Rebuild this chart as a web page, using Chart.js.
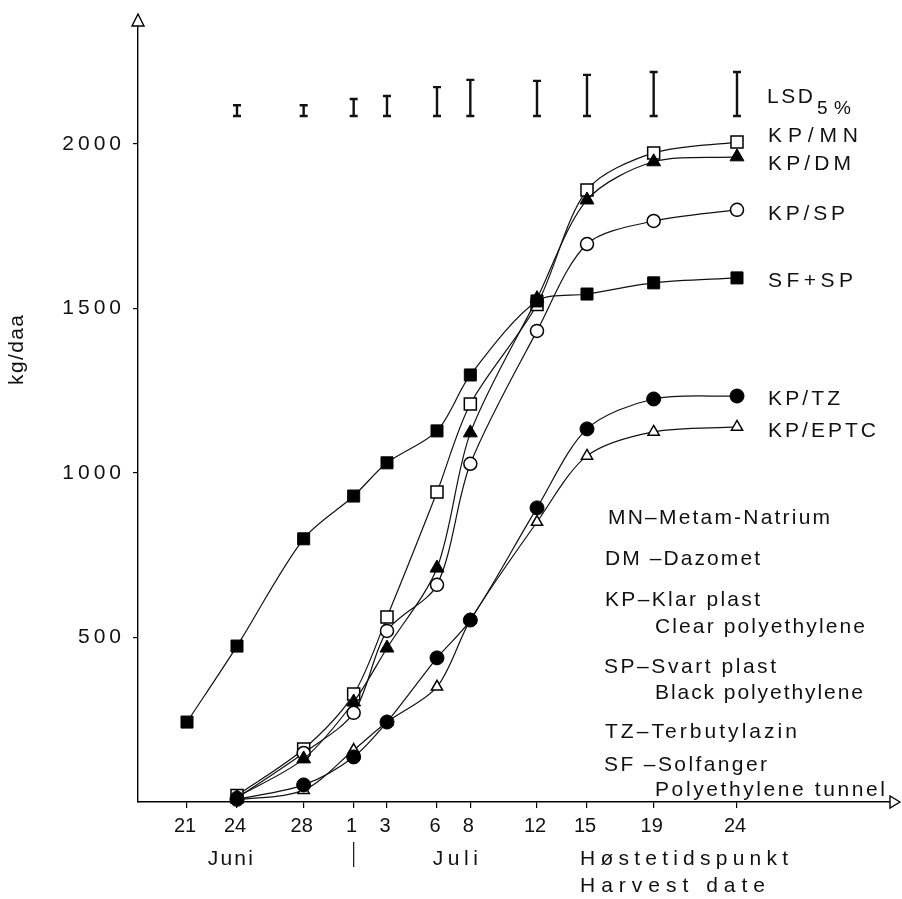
<!DOCTYPE html>
<html>
<head>
<meta charset="utf-8">
<script src="https://cdn.jsdelivr.net/npm/chart.js@4.4.1/dist/chart.umd.min.js"></script>
<style>
html,body{margin:0;padding:0;background:#fff;}
#wrap{width:902px;height:899px;position:relative;}
canvas{display:block;}
</style>
</head>
<body>
<div id="wrap"><canvas id="c" width="902" height="899"></canvas></div>
<script>
// ---- DATA (x = days after 21 June) ----
const dateDays   = [0, 3, 7, 10, 12, 15, 17, 21, 24, 28, 33];
const dateLabels = ['21', '24', '28', '1', '3', '6', '8', '12', '15', '19', '24'];
const monthLabels = ['Juni', 'Juli'];
const monthDays   = [2.6, 16.1];
const monthSplitDay = 10;
const sampleDays = [3, 7, 10, 12, 15, 17, 21, 24, 28, 33];
const sfspDays   = [0, 3, 7, 10, 12, 15, 17, 21, 24, 28, 33];

const kpMN   = [20, 161, 328, 562, 942, 1210, 1512, 1860, 1973, 2006];
const kpDM   = [15, 131, 304, 468, 711, 1122, 1530, 1830, 1946, 1961];
const kpSP   = [12, 149, 271, 520, 660, 1028, 1432, 1696, 1766, 1800];
const sfSP   = [243, 474, 800, 930, 1031, 1128, 1298, 1523, 1544, 1578, 1593];
const kpTZ   = [8, 52, 137, 243, 438, 553, 894, 1134, 1225, 1234];
const kpEPTC = [6, 36, 158, 243, 350, 553, 851, 1052, 1125, 1140];

const lsdDays   = [3, 7, 10, 12, 15, 17, 21, 24, 28, 33];
const lsdValues = [33, 33, 52, 61, 88, 110, 107, 125, 134, 134];
const lsdBase = 2085;

const yTicks = [500, 1000, 1500, 2000];
const seriesNames = ['KP/MN', 'KP/DM', 'KP/SP', 'SF+SP', 'KP/TZ', 'KP/EPTC'];
const yTitle = 'kg/daa';
const xTitle = ['Høstetidspunkt', 'Harvest date'];
const notes = [
  'MN–Metam-Natrium',
  'DM –Dazomet',
  'KP–Klar plast',
  'Clear polyethylene',
  'SP–Svart plast',
  'Black polyethylene',
  'TZ–Terbutylazin',
  'SF –Solfanger',
  'Polyethylene tunnel'
];

// ---- STYLE / LAYOUT ----
const FONT = '"Liberation Sans", Arial, Helvetica, sans-serif';
const labelDy = [-6, 7, 4, 3, 3, 4];
const labelW  = [90, 83, 77, 85, 72, 108];
const noteX = [608, 605, 605, 655, 604, 655, 605, 604, 655];
const noteY = [518, 559, 600, 627, 667, 693, 732, 765, 790];
const noteW = [222, 155, 155, 210, 172, 208, 192, 163, 230];
const drawOrder = [5, 2, 4, 0, 1, 3];

function pts(xs, ys) { return ys.map((v, i) => ({x: xs[i], y: v})); }

function ds(i, xs, ys, style, radius, filled) {
  return {
    label: seriesNames[i], data: pts(xs, ys), order: drawOrder[i],
    borderColor: '#111', borderWidth: 1.2,
    pointStyle: style, pointRadius: radius, pointHoverRadius: radius,
    pointBackgroundColor: filled ? '#000' : '#fff',
    pointBorderColor: '#000', pointBorderWidth: filled ? 1 : 1.5,
    tension: 0.3, fill: false, clip: false
  };
}

function fitText(ctx, text, x, y, size, width, align) {
  ctx.font = size + 'px ' + FONT;
  ctx.letterSpacing = '0px';
  const w0 = ctx.measureText(text).width;
  const n = text.length;
  const sp = width ? Math.max(0, (width - w0) / Math.max(1, n - 1)) : 0;
  const w = w0 + sp * (n - 1);
  ctx.letterSpacing = sp + 'px';
  let sx = x;
  if (align === 'center') sx = x - w / 2;
  else if (align === 'right') sx = x - w;
  ctx.textAlign = 'left';
  ctx.textBaseline = 'middle';
  ctx.fillStyle = '#111';
  ctx.fillText(text, sx, y);
  ctx.letterSpacing = '0px';
}

const annot = {
  id: 'annot',
  afterDraw(chart) {
    const ctx = chart.ctx;
    const xs = chart.scales.x, ys = chart.scales.y;
    const area = chart.chartArea;
    ctx.save();
    ctx.strokeStyle = '#000';
    ctx.fillStyle = '#fff';
    ctx.lineWidth = 1.4;
    // arrow heads
    ctx.beginPath();
    ctx.moveTo(area.left, 14);
    ctx.lineTo(area.left - 6, area.top);
    ctx.lineTo(area.left + 6, area.top);
    ctx.closePath();
    ctx.fill(); ctx.stroke();
    ctx.beginPath();
    ctx.moveTo(900, area.bottom);
    ctx.lineTo(area.right, area.bottom - 6);
    ctx.lineTo(area.right, area.bottom + 6);
    ctx.closePath();
    ctx.fill(); ctx.stroke();

    // LSD bars
    ctx.lineWidth = 2.4;
    ctx.strokeStyle = '#111';
    lsdDays.forEach((d, i) => {
      const x = xs.getPixelForValue(d);
      const y1 = ys.getPixelForValue(lsdBase);
      const y2 = ys.getPixelForValue(lsdBase + lsdValues[i]);
      ctx.beginPath();
      ctx.moveTo(x, y1); ctx.lineTo(x, y2);
      ctx.moveTo(x - 4, y1); ctx.lineTo(x + 4, y1);
      ctx.moveTo(x - 4, y2); ctx.lineTo(x + 4, y2);
      ctx.stroke();
    });

    // y tick labels
    yTicks.forEach(v => {
      ctx.font = '21px ' + FONT;
      ctx.letterSpacing = '4px';
      ctx.textAlign = 'right';
      ctx.textBaseline = 'middle';
      ctx.fillStyle = '#111';
      ctx.fillText(String(v), 125, ys.getPixelForValue(v));
      ctx.letterSpacing = '0px';
    });
    // x tick labels
    dateLabels.forEach((t, i) => {
      fitText(ctx, t, xs.getPixelForValue(dateDays[i]) - 2, 826, 20, 0, 'center');
    });
    monthLabels.forEach((t, i) => {
      fitText(ctx, t, xs.getPixelForValue(monthDays[i]), 859, 21, 45, 'center');
    });
    // month separator
    ctx.strokeStyle = '#111';
    ctx.lineWidth = 1.2;
    const sx = xs.getPixelForValue(monthSplitDay);
    ctx.beginPath();
    ctx.moveTo(sx, 842); ctx.lineTo(sx, 867);
    ctx.stroke();

    fitText(ctx, xTitle[0], 580, 859, 21, 208, 'left');
    fitText(ctx, xTitle[1], 580, 886, 21, 185, 'left');

    // y title (rotated)
    ctx.save();
    ctx.translate(17, 350);
    ctx.rotate(-Math.PI / 2);
    fitText(ctx, yTitle, 0, 0, 21, 70, 'center');
    ctx.restore();

    // LSD label
    fitText(ctx, 'LSD', 767, 97, 21, 46, 'left');
    fitText(ctx, '5%', 817, 109, 19, 34, 'left');

    // series labels
    chart.data.datasets.forEach((d, i) => {
      const last = d.data[d.data.length - 1];
      const px = xs.getPixelForValue(last.x) + 31;
      const py = ys.getPixelForValue(last.y) + labelDy[i];
      fitText(ctx, seriesNames[i], px, py, 21, labelW[i], 'left');
    });

    // explanatory notes
    notes.forEach((t, i) => fitText(ctx, t, noteX[i], noteY[i], 21, noteW[i], 'left'));
    ctx.restore();
  }
};

new Chart(document.getElementById('c'), {
  type: 'line',
  data: {
    datasets: [
      ds(0, sampleDays, kpMN, 'rect', 8.5, false),
      ds(1, sampleDays, kpDM, 'triangle', 8, true),
      ds(2, sampleDays, kpSP, 'circle', 6.5, false),
      ds(3, sfspDays, sfSP, 'rect', 8.5, true),
      ds(4, sampleDays, kpTZ, 'circle', 7, true),
      ds(5, sampleDays, kpEPTC, 'triangle', 6.5, false)
    ]
  },
  options: {
    responsive: false,
    maintainAspectRatio: false,
    animation: false,
    devicePixelRatio: 1,
    layout: {padding: {left: 133, right: 12, top: 26, bottom: 91}},
    plugins: {legend: {display: false}, tooltip: {enabled: false}},
    scales: {
      x: {
        type: 'linear', min: -2.94, max: 42.18,
        afterBuildTicks: a => { a.ticks = dateDays.map(v => ({value: v})); },
        ticks: {display: false},
        grid: {display: true, drawOnChartArea: false, drawTicks: true, tickLength: 6, color: '#000', lineWidth: 1.2},
        border: {display: true, color: '#000', width: 1.4}
      },
      y: {
        type: 'linear', min: 0, max: 2358.7,
        afterBuildTicks: a => { a.ticks = yTicks.map(v => ({value: v})); },
        ticks: {display: false},
        grid: {display: true, drawOnChartArea: false, drawTicks: true, tickLength: 5, color: '#000', lineWidth: 1.2},
        border: {display: true, color: '#000', width: 1.4}
      }
    }
  },
  plugins: [annot]
});
</script>
</body>
</html>
